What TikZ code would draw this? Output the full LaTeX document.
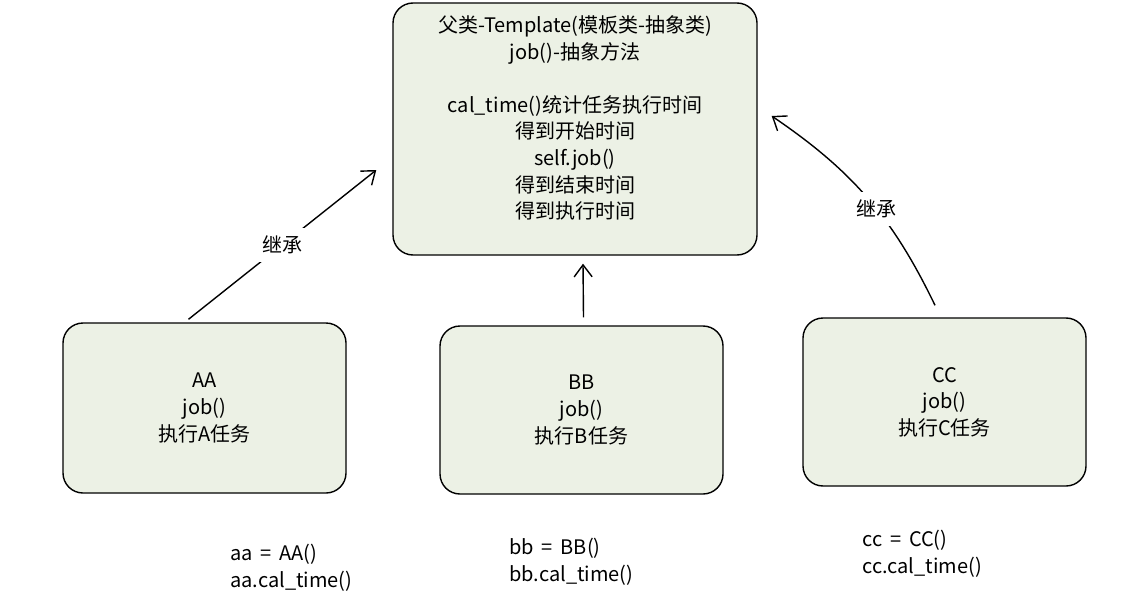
\documentclass[tikz,border=0pt]{standalone}
\usepackage{fontspec}
\setmainfont{Noto Sans CJK SC}
\usetikzlibrary{arrows.meta}
\definecolor{boxfill}{RGB}{236,241,229}

\begin{document}
\begin{tikzpicture}[x=0.5pt, y=-0.5pt, font=\fontsize{10}{13.3}\selectfont,
        main/.style = {draw, rounded corners=10pt, fill=boxfill, line width=0.7pt, align=center, inner sep=0pt},
        arr/.style = {-{Straight Barb[length=6pt,width=9pt]}, line width=0.7pt},
        lbl/.style = {fill=white, inner sep=4pt},
        code/.style = {anchor=west, align=left, inner sep=0pt}]
        \useasboundingbox (0,0) rectangle (1129,599);

        \node[main, minimum width=182pt, minimum height=126pt] (1) at (575,129) {};
        \node[align=center] (t1) at (575,118) {父类-Template(模板类-抽象类)\\job()-抽象方法\\ \\cal\_time()统计任务执行时间\\得到开始时间\\self.job()\\得到结束时间\\得到执行时间};

        \node[main, minimum width=141.5pt, minimum height=85pt] (2) at (204.5,408) {AA\\job()\\执行A任务};
        \node[main, minimum width=141.5pt, minimum height=84pt] (3) at (581.5,410) {BB\\job()\\执行B任务};
        \node[main, minimum width=141.5pt, minimum height=84pt] (4) at (944.5,402) {CC\\job()\\执行C任务};

        \node[code] (5) at (230,567.5) {aa \,=\, AA()\\aa.cal\_time()};
        \node[code] (6) at (509,561.5) {bb \,=\, BB()\\bb.cal\_time()};
        \node[code] (7) at (862,554) {cc \,=\, CC()\\cc.cal\_time()};

        \draw[arr] ([xshift=-8pt,yshift=1.5pt]2.north) -- node[lbl] {继承} ([xshift=-8pt,yshift=-20.5pt]1.west);
        \draw[arr] ([xshift=1pt,yshift=4pt]3.north) -- ([xshift=4pt,yshift=-4pt]1.south);
        \draw[arr] ([xshift=-4.75pt,yshift=6pt]4.north) to[bend right=15] node[lbl, pos=0.44] {继承} ([xshift=7pt,yshift=6.5pt]1.east);

    \end{tikzpicture}
\end{document}
